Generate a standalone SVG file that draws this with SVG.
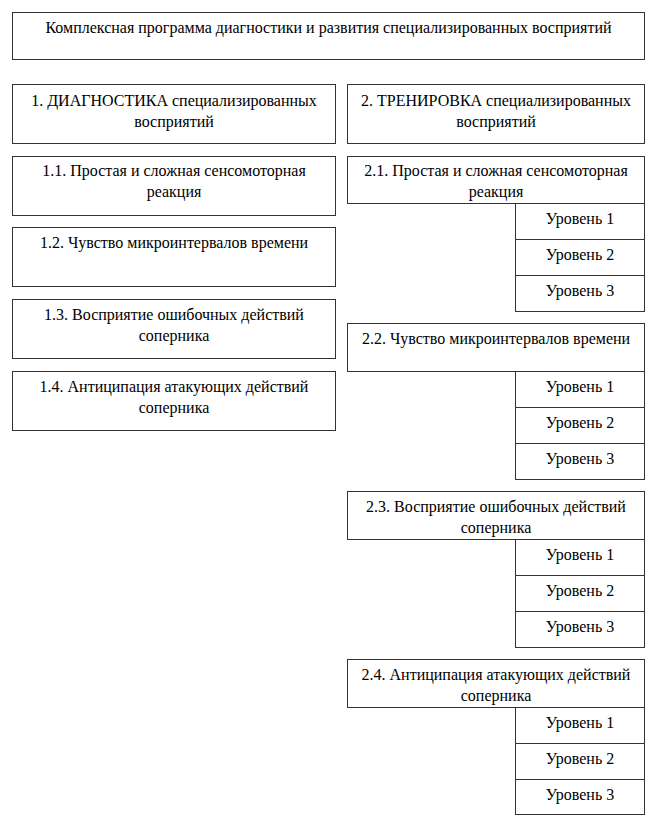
<svg xmlns="http://www.w3.org/2000/svg" width="648" height="828" viewBox="0 0 648 828">
<style>
rect{fill:#fff;stroke:#333;stroke-width:1}
text{font-family:"Liberation Serif","Times New Roman",serif;font-size:16px;fill:#000;text-anchor:middle}
</style>
<rect x="0" y="0" width="648" height="828" style="stroke:none"/>
<g id="connectors"></g>
<g id="title"><rect x="12.5" y="12.5" width="632" height="47"/><text x="328.5" y="33">Комплексная программа диагностики и развития специализированных восприятий</text></g>

<g id="n1"><rect x="12.5" y="84.5" width="323" height="59"/><text x="174" y="106">1. ДИАГНОСТИКА специализированных</text><text x="174" y="127">восприятий</text></g>
<g id="n1_1"><rect x="12.5" y="156.5" width="323" height="59"/><text x="174" y="176">1.1. Простая и сложная сенсомоторная</text><text x="174" y="197">реакция</text></g>
<g id="n1_2"><rect x="12.5" y="227.5" width="323" height="59"/><text x="174" y="248">1.2. Чувство микроинтервалов времени</text></g>
<g id="n1_3"><rect x="12.5" y="299.5" width="323" height="59"/><text x="174" y="320">1.3. Восприятие ошибочных действий</text><text x="174" y="341">соперника</text></g>
<g id="n1_4"><rect x="12.5" y="371.5" width="323" height="59"/><text x="174" y="392">1.4. Антиципация атакующих действий</text><text x="174" y="413">соперника</text></g>

<g id="n2"><rect x="347.5" y="84.5" width="297" height="59"/><text x="496" y="106">2. ТРЕНИРОВКА специализированных</text><text x="496" y="127">восприятий</text></g>

<g id="n2_1"><rect x="347.5" y="156.5" width="297" height="47"/><text x="496" y="176">2.1. Простая и сложная сенсомоторная</text><text x="496" y="197">реакция</text></g>
<g id="n2_1_l1"><rect x="515.5" y="203.5" width="129" height="36"/><text x="580" y="224">Уровень 1</text></g>
<g id="n2_1_l2"><rect x="515.5" y="239.5" width="129" height="36"/><text x="580" y="260">Уровень 2</text></g>
<g id="n2_1_l3"><rect x="515.5" y="275.5" width="129" height="36"/><text x="580" y="296">Уровень 3</text></g>

<g id="n2_2"><rect x="347.5" y="323.5" width="297" height="48"/><text x="496" y="344">2.2. Чувство микроинтервалов времени</text></g>
<g id="n2_2_l1"><rect x="515.5" y="371.5" width="129" height="36"/><text x="580" y="392">Уровень 1</text></g>
<g id="n2_2_l2"><rect x="515.5" y="407.5" width="129" height="36"/><text x="580" y="428">Уровень 2</text></g>
<g id="n2_2_l3"><rect x="515.5" y="443.5" width="129" height="36"/><text x="580" y="464">Уровень 3</text></g>

<g id="n2_3"><rect x="347.5" y="491.5" width="297" height="48"/><text x="496" y="512">2.3. Восприятие ошибочных действий</text><text x="496" y="533">соперника</text></g>
<g id="n2_3_l1"><rect x="515.5" y="539.5" width="129" height="36"/><text x="580" y="560">Уровень 1</text></g>
<g id="n2_3_l2"><rect x="515.5" y="575.5" width="129" height="36"/><text x="580" y="596">Уровень 2</text></g>
<g id="n2_3_l3"><rect x="515.5" y="611.5" width="129" height="36"/><text x="580" y="632">Уровень 3</text></g>

<g id="n2_4"><rect x="347.5" y="659.5" width="297" height="48"/><text x="496" y="680">2.4. Антиципация атакующих действий</text><text x="496" y="701">соперника</text></g>
<g id="n2_4_l1"><rect x="515.5" y="707.5" width="129" height="36"/><text x="580" y="728">Уровень 1</text></g>
<g id="n2_4_l2"><rect x="515.5" y="743.5" width="129" height="36"/><text x="580" y="764">Уровень 2</text></g>
<g id="n2_4_l3"><rect x="515.5" y="779.5" width="129" height="35"/><text x="580" y="800">Уровень 3</text></g>
</svg>
